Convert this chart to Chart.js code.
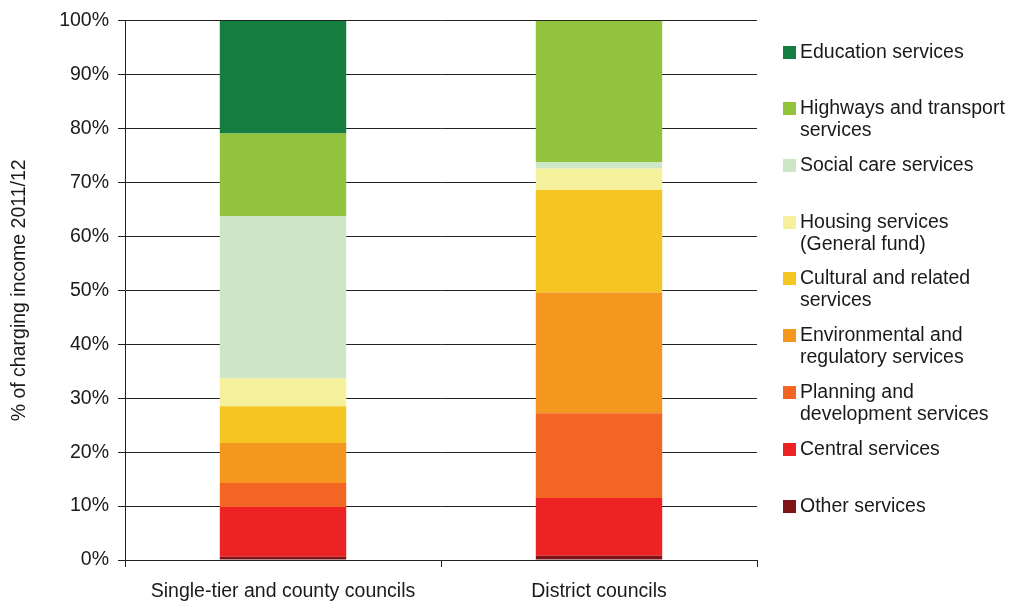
<!DOCTYPE html>
<html>
<head>
<meta charset="utf-8">
<script src="https://cdn.jsdelivr.net/npm/chart.js@4"></script>
<style>
  html, body { margin: 0; padding: 0; background: #fff; }
  #wrap { width: 1011px; height: 603px; }
</style>
</head>
<body>
<div id="wrap"><canvas id="chart" width="1011" height="603"></canvas></div>
<script>
var categories = ['Single-tier and county councils', 'District councils'];
var tickLabels = ['0%', '10%', '20%', '30%', '40%', '50%', '60%', '70%', '80%', '90%', '100%'];

// bottom of the stack first
var other         = [0.6, 0.8];
var central       = [9.25, 10.7];
var planning      = [4.45, 15.7];
var environmental = [7.4, 22.4];
var cultural      = [6.8, 19.0];
var housing       = [5.2, 4.0];
var socialCare    = [30.1, 1.15];
var highways      = [15.3, 26.25];
var education     = [20.9, 0];

var seriesNames = ['Other services', 'Central services', 'Planning and development services',
  'Environmental and regulatory services', 'Cultural and related services',
  'Housing services (General fund)', 'Social care services',
  'Highways and transport services', 'Education services'];
var seriesValues = [other, central, planning, environmental, cultural, housing, socialCare, highways, education];
var colours = ['#7f1416', '#ed2224', '#f26522', '#f4971f', '#f5c622', '#f4f09c', '#cce6c6', '#92c33d', '#147d3f'];

// legend lines, top to bottom, with the y of each entry
var legendRows = [
  { idx: 8, lines: ['Education services'], y: 52 },
  { idx: 7, lines: ['Highways and transport', 'services'], y: 108 },
  { idx: 6, lines: ['Social care services'], y: 165 },
  { idx: 5, lines: ['Housing services', '(General fund)'], y: 222 },
  { idx: 4, lines: ['Cultural and related', 'services'], y: 278 },
  { idx: 3, lines: ['Environmental and', 'regulatory services'], y: 335 },
  { idx: 2, lines: ['Planning and', 'development services'], y: 392 },
  { idx: 1, lines: ['Central services'], y: 449 },
  { idx: 0, lines: ['Other services'], y: 506 }
];

var FONT = 'Arial, "Liberation Sans", sans-serif';
var FS = 19.5;

var sideLegend = {
  id: 'sideLegend',
  afterDraw: function (chart) {
    var c = chart.ctx;
    c.save();
    c.font = FS + 'px ' + FONT;
    c.textBaseline = 'middle';
    c.textAlign = 'left';
    legendRows.forEach(function (row) {
      c.fillStyle = colours[row.idx];
      c.fillRect(783, row.y - 6, 13, 13);
      c.fillStyle = '#1a1a1a';
      row.lines.forEach(function (t, i) {
        c.fillText(t, 800, row.y + 1 + i * 22);
      });
    });
    c.restore();
  }
};

var datasets = seriesValues.map(function (vals, i) {
  return {
    label: seriesNames[i],
    data: vals,
    backgroundColor: colours[i],
    borderWidth: 0,
    barPercentage: 0.4,
    categoryPercentage: 1.0
  };
});

var ctx = document.getElementById('chart').getContext('2d');
var myChart = new Chart(ctx, {
  type: 'bar',
  data: { labels: categories, datasets: datasets },
  plugins: [sideLegend],
  options: {
    responsive: false,
    animation: false,
    layout: { padding: { top: 10, right: 254, left: 0, bottom: 0 } },
    plugins: { legend: { display: false }, tooltip: { enabled: false } },
    scales: {
      x: {
        stacked: true,
        afterFit: function (s) { s.height = 43; },
        border: { color: '#222', width: 1 },
        grid: { offset: true, drawOnChartArea: false, tickLength: 7, color: '#222' },
        ticks: { color: '#1a1a1a', font: { family: FONT, size: FS }, padding: 13 }
      },
      y: {
        stacked: true,
        min: 0,
        max: 100,
        afterFit: function (s) { s.width = 125; },
        border: { color: '#222', width: 1 },
        grid: { color: '#222', tickLength: 7 },
        ticks: {
          stepSize: 10,
          color: '#1a1a1a',
          font: { family: FONT, size: FS },
          padding: 9,
          callback: function (v) { return tickLabels[Math.round(v / 10)]; }
        },
        title: {
          display: true,
          text: '% of charging income 2011/12',
          color: '#1a1a1a',
          font: { family: FONT, size: FS },
          padding: { top: 8, bottom: 4 }
        }
      }
    }
  }
});
</script>
</body>
</html>
